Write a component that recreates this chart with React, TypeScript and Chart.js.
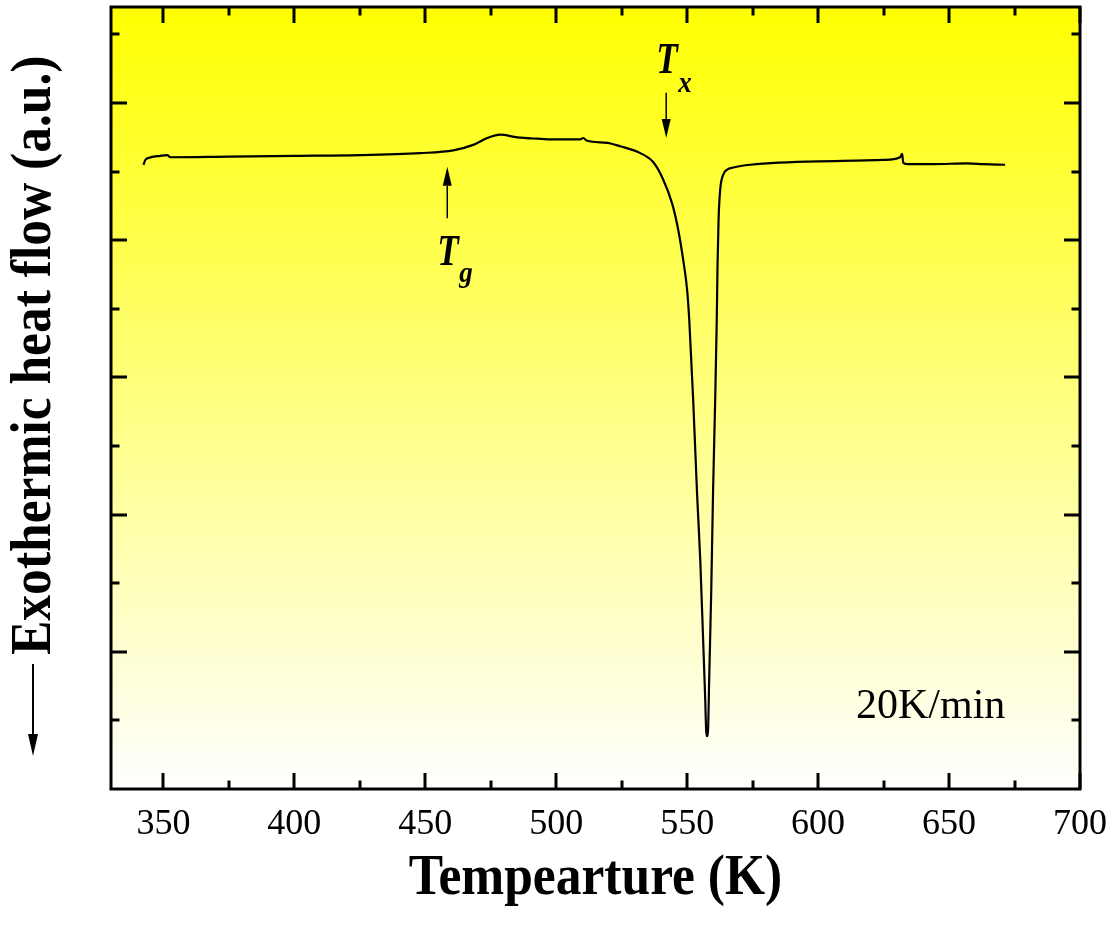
import { useEffect, useRef } from "react";
import { Chart, registerables } from "chart.js";

Chart.register(...registerables);

// Temperature (K) of each read point
const tempK = [
  342.4, 343.1, 344.3, 348.9, 351.5, 352.7, 375, 400, 425, 448.1, 460.7, 468.3,
  473.7, 478.6, 485.1, 492.8, 498.9, 509.2, 510.3, 511.8, 519.5, 524.4, 532.1,
  537.0, 540.8, 544.3, 546.6, 548.5, 550.0, 550.8, 552.3, 553.8, 555.0, 556.1,
  556.9, 557.25, 557.5, 558.0, 558.4, 559.2, 559.9, 560.7, 561.3, 561.6, 562.0,
  562.6, 563.7, 565.3, 567.6, 574.1, 600, 625, 631.3, 632.1, 632.5, 634.0,
  643.9, 656.9, 663.0, 671.4,
];
// Heat flow (a.u.)
const heatFlow = [
  9.10, 9.17, 9.20, 9.23, 9.24, 9.21, 9.22, 9.23, 9.24, 9.27, 9.31, 9.39,
  9.49, 9.54, 9.50, 9.48, 9.47, 9.47, 9.49, 9.45, 9.42, 9.37, 9.27,
  9.14, 8.89, 8.53, 8.15, 7.71, 7.27, 6.84, 5.67, 4.29, 3.34, 2.17,
  1.30, 0.86, 0.77, 0.89, 1.59, 2.90, 4.36, 5.67, 6.84, 7.64, 8.31,
  8.73, 8.95, 9.03, 9.06, 9.10, 9.15, 9.17, 9.21, 9.26, 9.13, 9.11,
  9.11, 9.12, 9.11, 9.10,
];

const xTickLabels = [350, 400, 450, 500, 550, 600, 650, 700];
const xMinorTicks = [375, 425, 475, 525, 575, 625, 675];
const yMajorTicks = [2, 4, 6, 8, 10];
const yMinorTicks = [1, 3, 5, 7, 9, 11];

// Arrow markers: label, subscript, temperature, arrow tail value, arrow tip value
const markerNames = ["T", "T"];
const markerSubs = ["x", "g"];
const markerTemps = [542.0, 458.4];
const markerTails = [10.15, 8.32];
const markerTips = [9.49, 9.07];

const rateLabel = "20K/min";
const xTitle = "Tempearture (K)";
const yTitle = "Exothermic heat flow (a.u.)";

const SERIF = '"Liberation Serif", "Times New Roman", serif';

const decorPlugin = {
  id: "decor",
  beforeDraw(chart: any) {
    const { ctx, chartArea: a, width, height } = chart;
    ctx.save();
    ctx.fillStyle = "#ffffff";
    ctx.fillRect(0, 0, width, height);
    const g = ctx.createLinearGradient(0, a.top, 0, a.bottom);
    g.addColorStop(0, "#ffff00");
    g.addColorStop(1, "#ffffff");
    ctx.fillStyle = g;
    ctx.fillRect(a.left, a.top, a.right - a.left, a.bottom - a.top);
    ctx.restore();
  },
  afterDraw(chart: any) {
    const { ctx, chartArea: a } = chart;
    const xs = chart.scales.x;
    const ys = chart.scales.y;
    ctx.save();
    ctx.strokeStyle = "#000";
    ctx.fillStyle = "#000";
    ctx.lineWidth = 3;
    ctx.lineCap = "butt";
    // frame
    ctx.strokeRect(a.left, a.top, a.right - a.left, a.bottom - a.top);
    const major = 16;
    const minor = 8.5;
    const xTick = (v: number, len: number) => {
      const px = Math.round(xs.getPixelForValue(v));
      ctx.beginPath();
      ctx.moveTo(px, a.bottom);
      ctx.lineTo(px, a.bottom - len);
      ctx.moveTo(px, a.top);
      ctx.lineTo(px, a.top + len);
      ctx.stroke();
    };
    const yTick = (v: number, len: number) => {
      const py = Math.round(ys.getPixelForValue(v));
      ctx.beginPath();
      ctx.moveTo(a.left, py);
      ctx.lineTo(a.left + len, py);
      ctx.moveTo(a.right, py);
      ctx.lineTo(a.right - len, py);
      ctx.stroke();
    };
    xTickLabels.forEach((v) => xTick(v, major));
    xMinorTicks.forEach((v) => xTick(v, minor));
    yMajorTicks.forEach((v) => yTick(v, major));
    yMinorTicks.forEach((v) => yTick(v, minor));

    // arrow markers
    const arrow = (x: number, y0: number, y1: number) => {
      const dir = y1 > y0 ? 1 : -1;
      const head = 19;
      ctx.lineWidth = 1.5;
      ctx.beginPath();
      ctx.moveTo(x, y0);
      ctx.lineTo(x, y1 - dir * head);
      ctx.stroke();
      ctx.beginPath();
      ctx.moveTo(x, y1);
      ctx.lineTo(x - 4.5, y1 - dir * head);
      ctx.lineTo(x + 4.5, y1 - dir * head);
      ctx.closePath();
      ctx.fill();
    };
    markerNames.forEach((name, i) => {
      const x = xs.getPixelForValue(markerTemps[i]);
      const yTail = ys.getPixelForValue(markerTails[i]);
      const yTip = ys.getPixelForValue(markerTips[i]);
      arrow(x, yTail, yTip);
      const below = yTail > yTip;
      const tBase = below ? yTail + 47 : yTail - 20;
      const sBase = below ? yTail + 64 : yTail - 1;
      ctx.textAlign = "left";
      ctx.textBaseline = "alphabetic";
      ctx.save();
      ctx.translate(x - 10, tBase);
      ctx.scale(0.8, 1);
      ctx.font = `bold italic 44px ${SERIF}`;
      ctx.fillText(name, 0, 0);
      ctx.restore();
      ctx.save();
      ctx.translate(x + 12, sBase);
      ctx.scale(0.9, 1);
      ctx.font = `bold italic 30px ${SERIF}`;
      ctx.fillText(markerSubs[i], 0, 0);
      ctx.restore();
    });

    // rate label
    ctx.font = `42px ${SERIF}`;
    ctx.textAlign = "left";
    ctx.textBaseline = "alphabetic";
    ctx.fillText(rateLabel, a.right - 224, a.bottom - 71);

    // x title
    ctx.save();
    ctx.translate((a.left + a.right) / 2, 894);
    ctx.scale(0.92, 1);
    ctx.font = `bold 56px ${SERIF}`;
    ctx.textAlign = "center";
    ctx.fillText(xTitle, 0, 0);
    ctx.restore();

    // y title with leading down arrow
    ctx.save();
    ctx.translate(50, 655);
    ctx.rotate(-Math.PI / 2);
    ctx.scale(0.92, 1);
    ctx.font = `bold 56px ${SERIF}`;
    ctx.textAlign = "left";
    ctx.fillText(yTitle, 0, 0);
    ctx.restore();
    ctx.lineWidth = 2;
    ctx.beginPath();
    ctx.moveTo(33, 664);
    ctx.lineTo(33, 737);
    ctx.stroke();
    ctx.beginPath();
    ctx.moveTo(33, 756);
    ctx.lineTo(28, 734);
    ctx.lineTo(38, 734);
    ctx.closePath();
    ctx.fill();
    ctx.restore();
  },
};

export default function App() {
  const ref = useRef<HTMLCanvasElement | null>(null);
  useEffect(() => {
    if (!ref.current) return;
    const chart = new Chart(ref.current, {
      type: "line",
      data: {
        datasets: [
          {
            data: tempK.map((t, i) => ({ x: t, y: heatFlow[i] })),
            borderColor: "#000000",
            borderWidth: 2.2,
            pointRadius: 0,
            fill: false,
            cubicInterpolationMode: "monotone",
          },
        ],
      },
      options: {
        responsive: false,
        animation: false,
        layout: { padding: { top: 7, right: 35, left: 0, bottom: 0 } },
        plugins: { legend: { display: false }, tooltip: { enabled: false } },
        scales: {
          x: {
            type: "linear",
            min: 330,
            max: 700,
            afterBuildTicks: (scale: any) => {
              scale.ticks = xTickLabels.map((v) => ({ value: v }));
            },
            afterFit: (scale: any) => {
              scale.height = 140;
              scale.paddingLeft = 0;
              scale.paddingRight = 0;
            },
            grid: { display: false, drawTicks: false },
            border: { display: false },
            ticks: {
              color: "#000",
              font: { family: SERIF, size: 36 },
              padding: 14,
              maxRotation: 0,
              autoSkip: false,
              callback: (v: any) => String(v),
            },
          },
          y: {
            type: "linear",
            min: 0,
            max: 11.4,
            afterFit: (scale: any) => {
              scale.width = 111;
              scale.paddingTop = 0;
              scale.paddingBottom = 0;
            },
            grid: { display: false, drawTicks: false },
            border: { display: false },
            ticks: { display: false },
          },
        },
      },
      plugins: [decorPlugin],
    } as any);
    return () => chart.destroy();
  }, []);
  return (
    <div style={{ position: "absolute", left: 0, top: 0, width: 1115, height: 929 }}>
      <canvas ref={ref} width={1115} height={929} style={{ display: "block" }} />
    </div>
  );
}
